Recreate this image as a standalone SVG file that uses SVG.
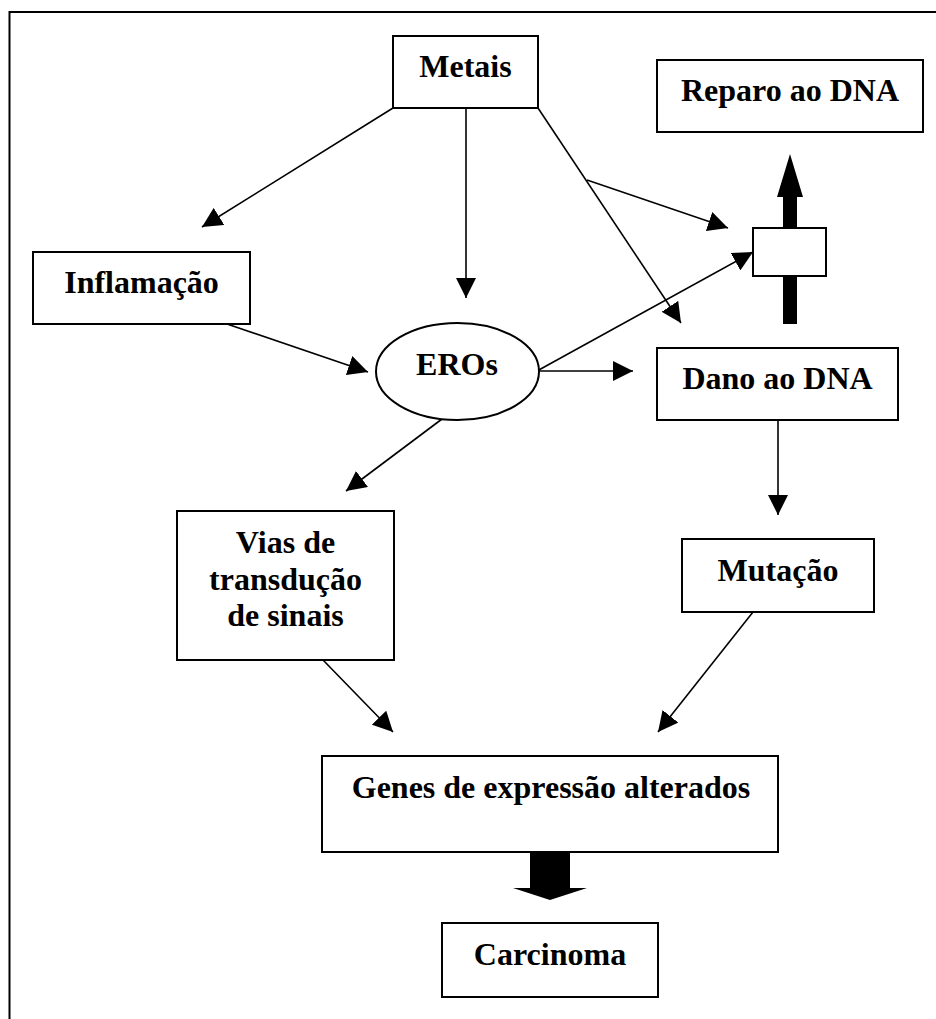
<svg xmlns="http://www.w3.org/2000/svg" width="936" height="1019" viewBox="0 0 936 1019">
<style>
.box{fill:#fff;stroke:#000;stroke-width:2}
.lbl{font-family:"Liberation Serif","Times New Roman",serif;font-weight:bold;font-size:32px;fill:#000;text-anchor:middle}
.con{stroke:#000;stroke-width:1.6;fill:none;marker-end:url(#ah)}
.thick{fill:#000;stroke:none}
</style>
<defs>
<marker id="ah" markerUnits="userSpaceOnUse" markerWidth="20" markerHeight="20" refX="20" refY="10" orient="auto" viewBox="0 0 20 20">
<path d="M0,0 L20,10 L0,20 z" fill="#000"/>
</marker>
</defs>
<rect width="936" height="1019" fill="#fff"/>
<path d="M9.5,1019 V12 H936" fill="none" stroke="#000" stroke-width="2"/>

<g id="connectors">
<line class="con" x1="393" y1="108" x2="202" y2="227"/>
<line class="con" x1="466" y1="108" x2="466" y2="298"/>
<line class="con" x1="538" y1="108" x2="681" y2="323"/>
<line class="con" x1="587" y1="180" x2="728" y2="228"/>
<line class="con" x1="227" y1="324" x2="368" y2="372"/>
<line class="con" x1="537" y1="371" x2="753" y2="252"/>
<line class="con" x1="537" y1="371" x2="633" y2="371"/>
<line class="con" x1="442" y1="419" x2="346" y2="491"/>
<line class="con" x1="778" y1="420" x2="778" y2="515"/>
<line class="con" x1="323" y1="660" x2="393" y2="732"/>
<line class="con" x1="753" y1="612" x2="658" y2="732"/>
<path class="thick" d="M783,324 V197 H777 L790,154 L803,197 H797 V324 z"/>
<path class="thick" d="M530,852 V888 H513 L550,900 L587,888 H570 V852 z"/>
</g>

<g id="metais"><rect class="box" x="393" y="36" width="145" height="72"/><text class="lbl" x="465.5" y="77">Metais</text></g>
<g id="reparo"><rect class="box" x="657" y="60" width="266" height="72"/><text class="lbl" x="790" y="101">Reparo ao DNA</text></g>
<g id="pequeno"><rect class="box" x="753" y="228" width="73" height="48"/></g>
<g id="inflamacao"><rect class="box" x="33" y="252" width="217" height="72"/><text class="lbl" x="141.5" y="293">Inflamação</text></g>
<g id="eros"><ellipse class="box" cx="457.5" cy="371.5" rx="81.5" ry="48.5"/><text class="lbl" x="457" y="375">EROs</text></g>
<g id="dano"><rect class="box" x="657" y="348" width="241" height="72"/><text class="lbl" x="777.5" y="389">Dano ao DNA</text></g>
<g id="vias"><rect class="box" x="177" y="511" width="217" height="149"/><text class="lbl" x="285.5" y="553">Vias de</text><text class="lbl" x="285.5" y="590">transdução</text><text class="lbl" x="285.5" y="626">de sinais</text></g>
<g id="mutacao"><rect class="box" x="682" y="539" width="192" height="73"/><text class="lbl" x="778" y="581">Mutação</text></g>
<g id="genes"><rect class="box" x="322" y="756" width="456" height="96"/><text class="lbl" x="551" y="798">Genes de expressão alterados</text></g>
<g id="carcinoma"><rect class="box" x="442" y="923" width="216" height="74"/><text class="lbl" x="550" y="965">Carcinoma</text></g>
</svg>
